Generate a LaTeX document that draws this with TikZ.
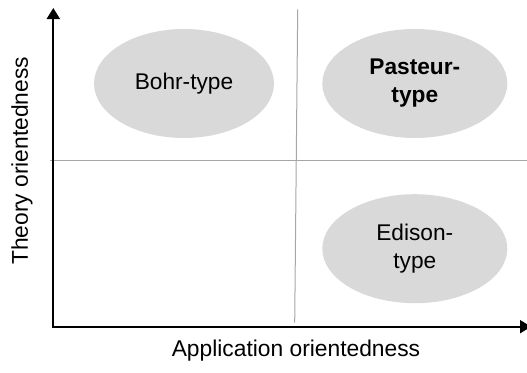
\documentclass[tikz,border=0pt]{standalone}
\usepackage{fontspec}
\setmainfont{Liberation Sans}
\usetikzlibrary{shapes.geometric,arrows.meta}
\definecolor{blobfill}{HTML}{D9D9D9}
\definecolor{gridline}{HTML}{A6A6A6}
\begin{document}
\begin{tikzpicture}[x=1pt,y=-1pt,
  axis/.style={line width=2pt,-{Triangle[length=11pt,width=13pt]}},
  divider/.style={gridline,line width=1pt},
  blob/.style={ellipse,fill=blobfill,inner sep=0pt,minimum height=109pt,
    align=center,font=\fontsize{22.7}{28}\selectfont},
  axislabel/.style={font=\fontsize{22.8}{27}\selectfont}]
\useasboundingbox (0,0) rectangle (527,372);
% quadrant dividers
\coordinate (vtop) at (297.7,9.3);
\coordinate (vbot) at (294.7,322.7);
\coordinate (hleft) at (50,160.7);
\coordinate (hright) at (528,160.7);
\draw[divider] (vtop) -- (vbot);
\draw[divider] (hleft) -- (hright);
% axes
\coordinate (origin) at (53.3,326.7);
\coordinate (ytip) at (53.3,8);
\coordinate (xtip) at (531,326.7);
\draw[axis] (origin) -- (ytip);
\draw[axis] ([xshift=-1pt]origin) -- (xtip);
% research types
\node[blob,minimum width=180pt] (bohr) at (184,83.5) {Bohr-type};
\node[blob,minimum width=185pt] (pasteur) at (414.8,83.5) {\bfseries Pasteur-\\\bfseries type};
\node[blob,minimum width=185pt] (edison) at (414.8,248.7) {Edison-\\type};
% axis labels
\node[axislabel] (xlabel) at (296,351) {Application orientedness};
\node[axislabel,rotate=90] (ylabel) at (22,161) {Theory orientedness};
\end{tikzpicture}
\end{document}
